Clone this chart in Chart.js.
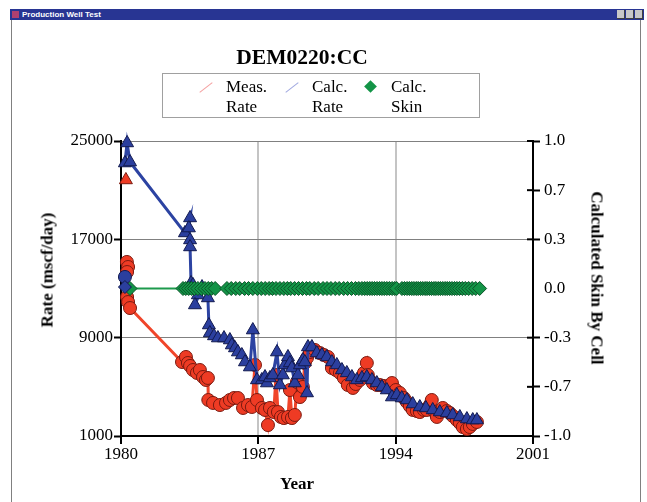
<!DOCTYPE html>
<html>
<head>
<meta charset="utf-8">
<script src="https://cdn.jsdelivr.net/npm/chart.js@4.4.1/dist/chart.umd.min.js"></script>
<style>
  body { margin: 0; width: 647px; height: 502px; overflow: hidden; position: relative; background: #fff; font-family: "Liberation Serif", "Times New Roman", serif; }
  #chart { position: absolute; left: 0; top: 0; }
  .abs { position: absolute; white-space: nowrap; }
  #bar { left: 10px; top: 9px; width: 634px; height: 11px; background: #283593; }
  #barText { left: 12px; top: 0; font: bold 8px "Liberation Sans", Arial, sans-serif; color: #fff; line-height: 11px; }
  #barIcon { left: 2px; top: 2px; width: 7px; height: 7px; background: #b04070; }
  .btn { top: 1px; width: 8px; height: 9px; background: #c8c8c8; border-right: 1px solid #404040; border-bottom: 1px solid #404040; box-sizing: border-box; }
  .edge { top: 20px; width: 1px; height: 482px; background: #808080; }
  #title { left: 302px; top: 57px; transform: translate(-50%, -50%); font-weight: bold; font-size: 21.5px; }
  #legend { left: 162px; top: 73px; width: 316px; height: 43px; border: 1px solid #a0a0a0; }
  .lgText { font-size: 17px; line-height: 20px; top: 77px; }
  .lgLine { width: 16px; height: 1px; transform: rotate(-38deg); }
  .ytitle { font-weight: bold; font-size: 17px; line-height: 1; }
</style>
</head>
<body>
<canvas id="chart" width="647" height="502"></canvas>

<div id="bar" class="abs">
  <div id="barIcon" class="abs"></div>
  <div id="barText" class="abs">Production Well Test</div>
  <div class="abs btn" style="left:607px"></div>
  <div class="abs btn" style="left:616px"></div>
  <div class="abs btn" style="left:625px"></div>
</div>
<div class="abs edge" style="left:11px"></div>
<div class="abs edge" style="left:640px"></div>

<div id="title" class="abs">DEM0220:CC</div>
<div id="legend" class="abs"></div>
<div class="abs lgLine" style="left:198px;top:87px;background:#f4a0a0"></div>
<div class="abs lgText" style="left:226px">Meas.<br>Rate</div>
<div class="abs lgLine" style="left:284px;top:87px;background:#a0a8e0"></div>
<div class="abs lgText" style="left:312px">Calc.<br>Rate</div>
<div class="abs" style="left:366px;top:82px;width:9px;height:9px;background:#139447;transform:rotate(45deg)"></div>
<div class="abs lgText" style="left:391px">Calc.<br>Skin</div>

<div class="abs ytitle" style="left:47px;top:270px;transform:translate(-50%,-50%) rotate(-90deg)">Rate (mscf/day)</div>
<div class="abs ytitle" style="left:597px;top:278px;transform:translate(-50%,-50%) rotate(90deg)">Calculated Skin By Cell</div>
<div class="abs ytitle" style="left:297px;top:483px;transform:translate(-50%,-50%)">Year</div>

<script>
// axis ticks
const yearTicks = [1980, 1987, 1994, 2001];
const rateTicks = [1000, 9000, 17000, 25000];
const skinTicks = [-1, -2 / 3, -1 / 3, 0, 1 / 3, 2 / 3, 1];

// measured rate (mscf/day)
const measYears = [1980.30, 1980.36, 1980.31, 1980.31, 1980.36, 1980.46,
  1983.11, 1983.31, 1983.41, 1983.52, 1983.67, 1983.87, 1984.02, 1984.18, 1984.33, 1984.43,
  1984.45, 1984.69, 1985.04, 1985.35, 1985.55, 1985.76, 1985.96, 1986.22, 1986.47, 1986.67,
  1986.83, 1986.93, 1987.18, 1987.34, 1987.49, 1987.59, 1987.79, 1987.90, 1988.00, 1988.15,
  1988.30, 1988.51, 1988.61, 1988.71, 1988.86, 1988.97, 1989.12, 1989.27, 1989.37, 1989.48,
  1989.63, 1989.88, 1990.14, 1990.34, 1990.55, 1990.75, 1990.95, 1991.16, 1991.36, 1991.56,
  1991.82, 1991.97, 1992.18, 1992.38, 1992.53, 1992.58, 1992.84, 1993.04, 1993.19, 1993.40,
  1993.55, 1993.81, 1994.01, 1994.21, 1994.42, 1994.57, 1994.72, 1994.87, 1995.08, 1995.23,
  1995.44, 1995.59, 1995.74, 1995.84, 1996.00, 1996.10, 1996.25, 1996.40, 1996.61, 1996.76,
  1996.91, 1997.12, 1997.27, 1997.42, 1997.63, 1997.78, 1997.93, 1998.14];
const measRate = [15160, 14750, 14340, 12310, 11900, 11410,
  7020, 7430, 6940, 6700, 6370, 6130, 6370, 5800, 5560, 5720,
  3930, 3690, 3520, 3690, 3930, 4090, 4090, 3280, 3520, 3360,
  6780, 3930, 3280, 3120, 1890, 3280, 2950, 5960, 2950, 2550,
  2460, 2550, 4740, 2460, 2710, 5390, 4170, 4990, 6940, 7350,
  7830, 8000, 7750, 7590, 7430, 6530, 6370, 6130, 5720, 5150,
  4910, 5230, 5560, 6130, 6940, 5960, 5310, 5150, 5150, 5070,
  4990, 5310, 4740, 4500, 4090, 3770, 3440, 3120, 3030, 2950,
  3120, 3120, 3520, 3930, 2950, 2550, 2950, 3280, 3030, 2870,
  2630, 2300, 2060, 1730, 1570, 1730, 1980, 2140];

// calculated rate (mscf/day)
const calcYears = [1980.20, 1980.31, 1980.46,
  1983.26, 1983.52, 1983.46, 1983.52, 1983.52, 1983.57, 1983.67, 1983.92, 1983.77, 1984.13,
  1984.43, 1984.48, 1984.53, 1984.74, 1984.94, 1985.25, 1985.55, 1985.65, 1985.81, 1985.96,
  1986.16, 1986.32, 1986.57, 1986.72, 1986.93, 1987.18, 1987.34, 1987.44, 1987.59, 1987.74,
  1987.95, 1988.10, 1988.25, 1988.35, 1988.51, 1988.61, 1988.71, 1988.86, 1989.02, 1989.12,
  1989.27, 1989.37, 1989.48, 1989.53, 1989.73, 1989.98, 1990.24, 1990.49, 1990.75, 1991.00,
  1991.26, 1991.51, 1991.77, 1992.02, 1992.28, 1992.53, 1992.79, 1993.04, 1993.30, 1993.55,
  1993.81, 1994.06, 1994.31, 1994.57, 1994.87, 1995.23, 1995.54, 1995.89, 1996.25, 1996.61,
  1996.91, 1997.27, 1997.63, 1997.93, 1998.14];
const calcRate = [23210, 24840, 23290,
  17520, 18740, 17920, 16950, 16380, 13450, 13290, 12470, 11660, 13120,
  12230, 10030, 9380, 9140, 8970, 8970, 8810, 8400, 8160, 7830,
  7590, 7020, 6610, 9620, 5560, 5560, 5800, 5310, 5720, 5960,
  7830, 5150, 5960, 6780, 7430, 6940, 6530, 5310, 5960, 6780,
  7180, 7020, 4500, 8240, 8240, 7750, 7590, 7430, 7020, 6780,
  6370, 6130, 5800, 5560, 5720, 5800, 5560, 5310, 4990, 4740,
  4170, 4340, 4090, 3930, 3600, 3360, 3280, 3120, 2950, 2870,
  2710, 2550, 2380, 2300, 2300];

// calculated skin by cell
const skinYears = [1980.46,
  1983.16, 1983.30, 1983.45, 1983.60, 1983.75, 1983.92, 1984.10, 1984.28, 1984.45, 1984.62, 1984.80,
  1985.40, 1985.62, 1985.85, 1986.05, 1986.30, 1986.50, 1986.72, 1986.95, 1987.15, 1987.35,
  1987.55, 1987.72, 1987.90, 1988.10, 1988.30, 1988.48, 1988.65, 1988.85, 1989.05, 1989.25,
  1989.45, 1989.62, 1989.85, 1990.05, 1990.30, 1990.50, 1990.70, 1990.92, 1991.12, 1991.35,
  1991.55, 1991.75, 1991.95, 1992.12, 1992.28, 1992.42, 1992.55, 1992.68, 1992.80, 1992.92,
  1993.05, 1993.18, 1993.30, 1993.42, 1993.55, 1993.68, 1993.82, 1993.95, 1994.05,
  1994.32, 1994.45, 1994.58, 1994.70, 1994.82, 1994.93, 1995.05, 1995.15, 1995.27, 1995.38,
  1995.50, 1995.60, 1995.72, 1995.83, 1995.95, 1996.05, 1996.17, 1996.28, 1996.40, 1996.52,
  1996.63, 1996.75, 1996.87, 1997.00, 1997.12, 1997.25, 1997.40, 1997.55, 1997.72, 1997.90,
  1998.08, 1998.28];
const skinValues = [0,
  0, 0, 0, 0, 0, 0, 0, 0, 0, 0, 0,
  0, 0, 0, 0, 0, 0, 0, 0, 0, 0,
  0, 0, 0, 0, 0, 0, 0, 0, 0, 0,
  0, 0, 0, 0, 0, 0, 0, 0, 0, 0,
  0, 0, 0, 0, 0, 0, 0, 0, 0, 0,
  0, 0, 0, 0, 0, 0, 0, 0, 0,
  0, 0, 0, 0, 0, 0, 0, 0, 0, 0,
  0, 0, 0, 0, 0, 0, 0, 0, 0, 0,
  0, 0, 0, 0, 0, 0, 0, 0, 0, 0,
  0, 0];

// odd markers at the first test
const firstMeasYears = [1980.25];
const firstMeasRate = [21830];
const firstCalcYears = [1980.20, 1980.20];
const firstCalcRate = [13940, 13120];

const toPoints = (xs, ys) => xs.map((x, i) => ({ x: x, y: ys[i] }));
const serif = '"Liberation Serif", "Times New Roman", serif';

// small inward tick marks on the skin axis
const innerTicks = {
  id: "innerTicks",
  afterDraw(chart) {
    const s = chart.scales.skin;
    const c = chart.ctx;
    c.save();
    c.strokeStyle = "#000";
    c.lineWidth = 2;
    s.ticks.forEach((t) => {
      if (Math.abs(t.value) < 1e-6) return;
      const y = s.getPixelForValue(t.value);
      c.beginPath();
      c.moveTo(s.left - 6, y);
      c.lineTo(s.left, y);
      c.stroke();
    });
    c.restore();
  },
};

new Chart(document.getElementById("chart"), {
  type: "scatter",
  data: {
    datasets: [
      {
        label: "First test",
        data: toPoints(firstCalcYears, firstCalcRate),
        yAxisID: "y",
        showLine: false,
        pointStyle: ["circle", "rectRot"],
        pointRadius: 6.5,
        pointBackgroundColor: "#2b3f9e",
        pointBorderColor: "#121a50",
        pointBorderWidth: 1,
        order: 0,
      },
      {
        label: "First meas",
        data: toPoints(firstMeasYears, firstMeasRate),
        yAxisID: "y",
        showLine: false,
        pointStyle: "triangle",
        pointRadius: 7.5,
        pointBackgroundColor: "#ee3b24",
        pointBorderColor: "#7a1a10",
        pointBorderWidth: 1,
        order: 0,
      },
      {
        label: "Calc. Skin",
        data: toPoints(skinYears, skinValues),
        yAxisID: "skin",
        showLine: true,
        borderColor: "#1d9a4c",
        borderWidth: 2,
        pointStyle: "rectRot",
        pointRadius: 7,
        pointBackgroundColor: "#139447",
        pointBorderColor: "#0a5428",
        pointBorderWidth: 1,
        order: 1,
      },
      {
        label: "Calc. Rate",
        data: toPoints(calcYears, calcRate),
        yAxisID: "y",
        showLine: true,
        borderColor: "#2c43a2",
        borderWidth: 3,
        pointStyle: "triangle",
        pointRadius: 7.5,
        pointBackgroundColor: "#2b3f9e",
        pointBorderColor: "#121a50",
        pointBorderWidth: 1,
        order: 2,
      },
      {
        label: "Meas. Rate",
        data: toPoints(measYears, measRate),
        yAxisID: "y",
        showLine: true,
        borderColor: "#f0452a",
        borderWidth: 3,
        pointStyle: "circle",
        pointRadius: 6.5,
        pointBackgroundColor: "#ee3b24",
        pointBorderColor: "#7a1a10",
        pointBorderWidth: 1,
        order: 3,
      },
    ],
  },
  options: {
    responsive: false,
    animation: false,
    clip: false,
    layout: { padding: { left: 0, right: 0, top: 141, bottom: 0 } },
    plugins: { legend: { display: false }, tooltip: { enabled: false } },
    scales: {
      x: {
        type: "linear",
        position: "bottom",
        min: yearTicks[0],
        max: yearTicks[yearTicks.length - 1],
        afterBuildTicks: (s) => { s.ticks = yearTicks.map((v) => ({ value: v })); },
        afterFit: (s) => { s.height = 66; },
        ticks: { callback: (v) => String(v), font: { family: serif, size: 17 }, color: "#000", padding: 0, maxRotation: 0 },
        grid: {
          color: (c) => (c.tick && (c.tick.value === 1987 || c.tick.value === 1994) ? "#c4c4c4" : "rgba(0,0,0,0)"),
          lineWidth: 2,
          tickLength: 8,
          tickColor: "#000",
          tickWidth: 2,
        },
        border: { color: "#000", width: 2 },
      },
      y: {
        type: "linear",
        position: "left",
        min: rateTicks[0],
        max: rateTicks[rateTicks.length - 1],
        afterBuildTicks: (s) => { s.ticks = rateTicks.map((v) => ({ value: v })); },
        afterFit: (s) => { s.width = 121; },
        ticks: { callback: (v) => String(v), font: { family: serif, size: 17 }, color: "#000", padding: 1 },
        grid: {
          color: (c) => (c.tick && c.tick.value === 1000 ? "rgba(0,0,0,0)" : "#808080"),
          lineWidth: 1,
          tickLength: 7,
          tickColor: "#000",
          tickWidth: 2,
        },
        border: { color: "#000", width: 2 },
      },
      skin: {
        type: "linear",
        position: "right",
        min: -1,
        max: 1,
        afterBuildTicks: (s) => { s.ticks = skinTicks.map((v) => ({ value: v })); },
        afterFit: (s) => { s.width = 114; },
        ticks: { callback: (v) => v.toFixed(1), font: { family: serif, size: 17 }, color: "#000", padding: 4 },
        grid: {
          drawOnChartArea: false,
          tickLength: 7,
          tickColor: (c) => (c.tick && Math.abs(c.tick.value) < 1e-6 ? "rgba(0,0,0,0)" : "#000"),
          tickWidth: 2,
        },
        border: { color: "#000", width: 2 },
      },
    },
  },
  plugins: [innerTicks],
});
</script>
</body>
</html>
